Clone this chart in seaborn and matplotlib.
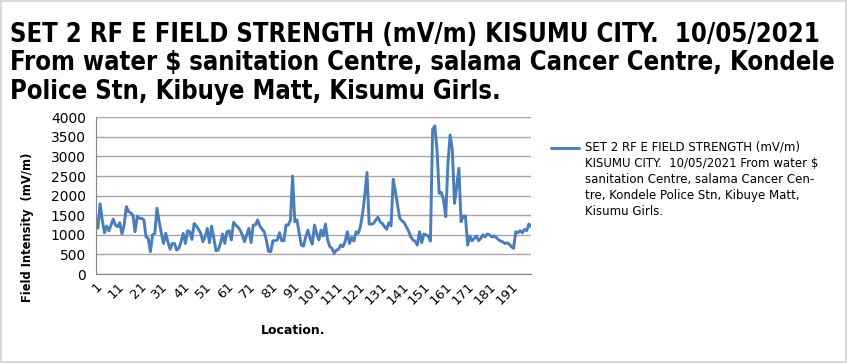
import matplotlib
matplotlib.use("Agg")
import matplotlib.pyplot as plt
import numpy as np
import pandas as pd
import seaborn as sns

# field strength (mV/m), one value per location
field_strength = [
    1450, 1170, 1790, 1380, 1055, 1225, 1100, 1250, 1400, 1250,
    1210, 1310, 1020, 1250, 1720, 1590, 1565, 1500, 1080, 1480,
    1420, 1420, 1380, 950, 910, 570, 1000, 1040, 1680, 1340,
    1040, 780, 1040, 825, 630, 780, 780, 610, 655, 825,
    1040, 780, 1105, 1080, 885, 1290, 1225, 1140, 1040, 825,
    950, 1165, 800, 1225, 910, 595, 610, 780, 1020, 780,
    1080, 1105, 870, 1320, 1250, 1200, 1120, 1000, 825, 1000,
    1165, 800, 1250, 1250, 1380, 1225, 1150, 1080, 870, 580,
    570, 850, 850, 870, 1055, 850, 850, 1250, 1250, 1380,
    2500, 1335, 1380, 1040, 740, 715, 950, 1120, 910, 765,
    1250, 1040, 870, 1120, 970, 1275, 870, 700, 655, 530,
    610, 630, 740, 700, 825, 1080, 780, 935, 840, 1080,
    1040, 1210, 1550, 2020, 2590, 1275, 1275, 1290, 1380, 1450,
    1335, 1290, 1210, 1140, 1310, 1230, 2420, 2100, 1750, 1420,
    1360, 1310, 1200, 1100, 950, 870, 840, 740, 1080, 800,
    1020, 1000, 970, 840, 3690, 3780, 3165, 2060, 2080, 1890,
    1465, 2825, 3550, 3165, 1805, 2230, 2700, 1335, 1480, 1480,
    740, 970, 850, 910, 970, 850, 910, 1000, 950, 1020,
    1000, 950, 970, 935, 885, 840, 825, 780, 800, 765,
    700, 655, 1080, 1055, 1105, 1055, 1140, 1105, 1275, 1210,
]
locations = list(range(1, len(field_strength) + 1))
x_ticks = locations[::10]
y_ticks = list(range(0, 4001, 500))

title = ("SET 2 RF E FIELD STRENGTH (mV/m) KISUMU CITY.  10/05/2021\n"
         "From water \\$ sanitation Centre, salama Cancer Centre, Kondele\n"
         "Police Stn, Kibuye Matt, Kisumu Girls.")
series_label = ("SET 2 RF E FIELD STRENGTH (mV/m)\n"
                "KISUMU CITY.  10/05/2021 From water \\$\n"
                "sanitation Centre, salama Cancer Cen-\n"
                "tre, Kondele Police Stn, Kibuye Matt,\n"
                "Kisumu Girls.")

sns.set_style("white")
plt.rcParams["font.family"] = ["DejaVu Sans"]
plt.rcParams["text.color"] = "black"
plt.rcParams["axes.labelcolor"] = "black"
plt.rcParams["xtick.color"] = "black"
plt.rcParams["ytick.color"] = "black"

df = pd.DataFrame({"Location": locations, "Field": field_strength})

fig = plt.figure(figsize=(8.47, 3.63), dpi=100)
fig.patch.set_edgecolor("#d9d9d9")
fig.patch.set_linewidth(1.5)
ax = fig.add_axes([0.113, 0.245, 0.514, 0.432])

sns.lineplot(data=df, x="Location", y="Field", ax=ax, color="#4a7ebb",
             linewidth=2.1, label=series_label)

ax.set_xlim(1, len(field_strength))
ax.set_ylim(0, 4000)
ax.set_yticks(y_ticks)
ax.set_yticklabels([str(v) for v in y_ticks], fontsize=10)
ax.set_xticks(x_ticks)
ax.set_xticklabels([str(v) for v in x_ticks], fontsize=9.5, rotation=45,
                   ha="right", rotation_mode="anchor")
ax.tick_params(axis="y", length=0, pad=7)
ax.tick_params(axis="x", length=0, pad=4)
ax.grid(axis="y", color="#a6a6a6", linewidth=1)
ax.set_axisbelow(True)
for side in ["top", "right"]:
    ax.spines[side].set_visible(False)
for side in ["left", "bottom"]:
    ax.spines[side].set_color("#868686")

ax.set_xlabel("Location.", fontsize=9, fontweight="bold")
ax.xaxis.set_label_coords(0.453, -0.32)
ax.set_ylabel("Field Intensity  (mV/m)", fontsize=8.3, fontweight="bold")
ax.yaxis.set_label_coords(-0.142, 0.30)

leg = ax.legend(loc="upper left", bbox_to_anchor=(1.035, 0.88), frameon=False,
                fontsize=8.5, handlelength=2.4, handletextpad=0.5,
                borderaxespad=0)
leg.get_texts()[0].set_linespacing(1.3)
# keep the legend key level with the first line of the wrapped label
key = leg.get_lines()[0]
key.set_ydata(np.asarray(key.get_ydata()) + 23)

fig.text(0.012, 0.94, title, fontsize=18.4, fontweight="bold",
         fontstretch="condensed", va="top", ha="left", linespacing=1.12,
         color="black")

fig.savefig("out.png", dpi=100)
